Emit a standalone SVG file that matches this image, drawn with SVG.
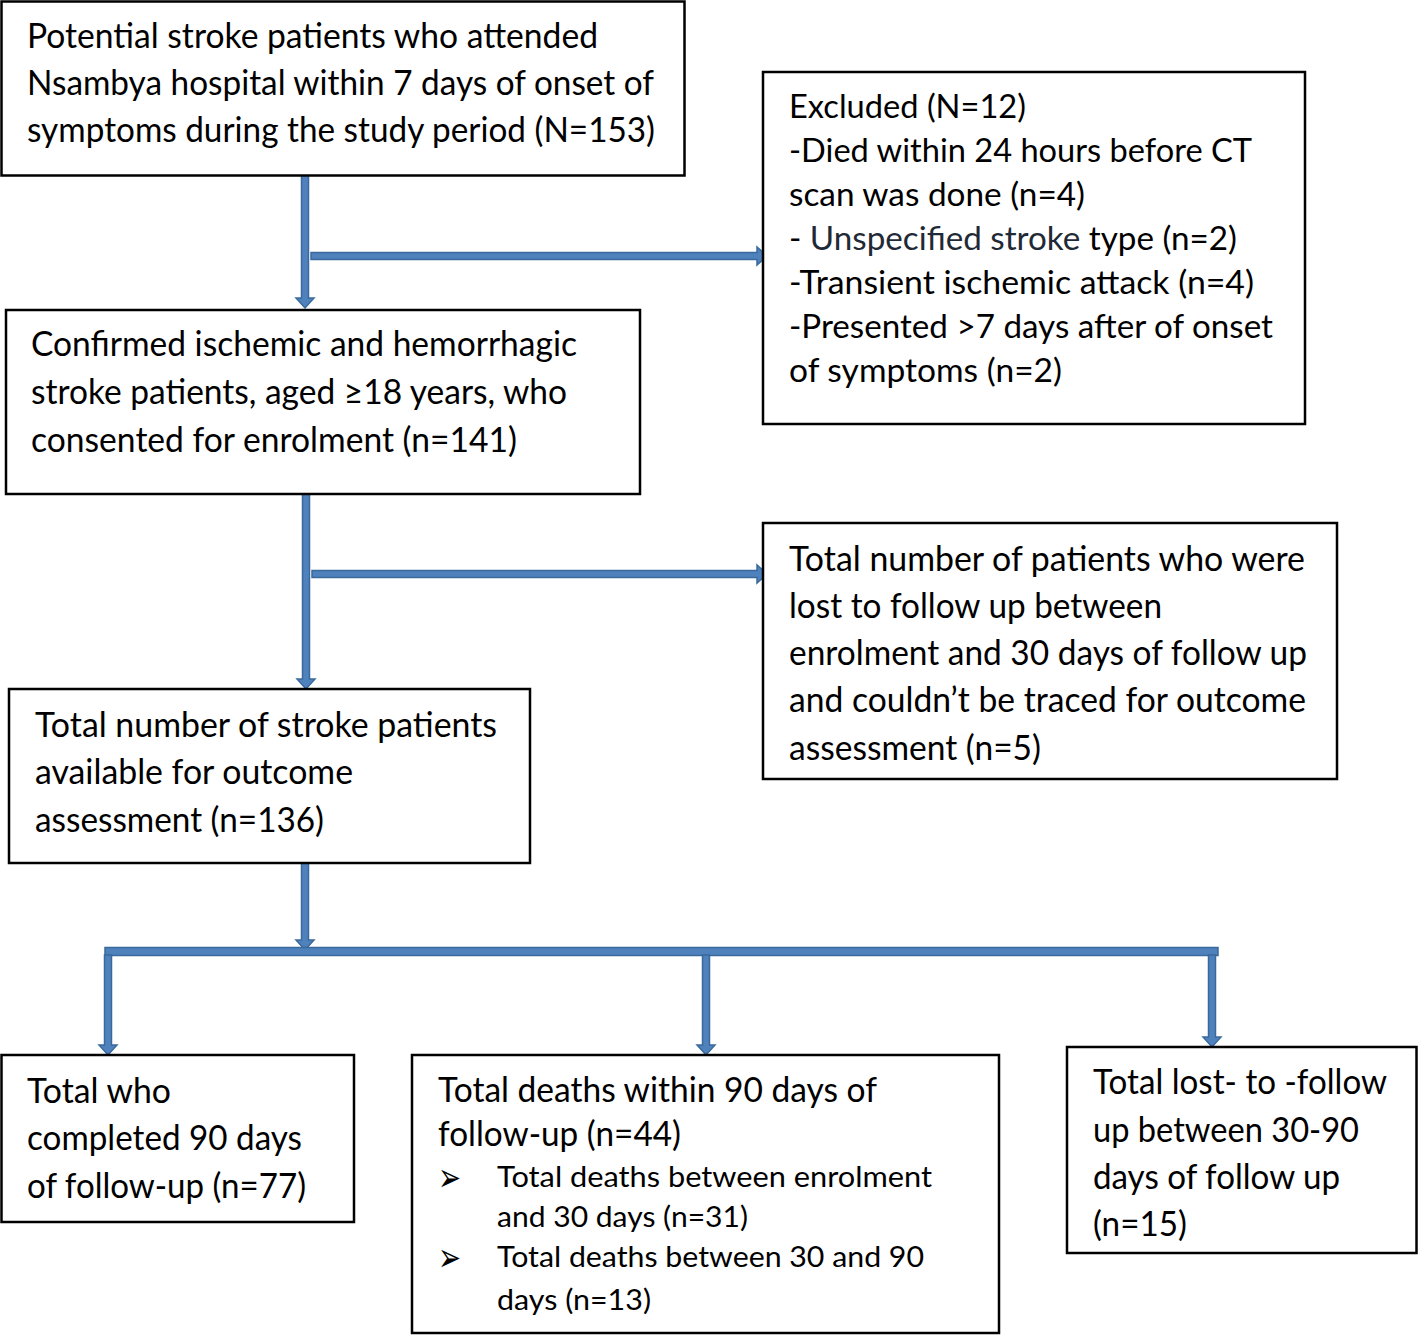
<svg xmlns="http://www.w3.org/2000/svg" width="1418" height="1335" viewBox="0 0 1418 1335">
<style>
.box{fill:#fff;stroke:#000;stroke-width:2.5}
.t{font-family:Lato,"Open Sans","Liberation Sans",sans-serif;font-size:34px;fill:#000}
.s{font-size:32px}
.b{font-size:29px}
.arr{fill:#4F81BD;stroke:#3A6A9C;stroke-width:1.5;stroke-linejoin:miter}
.bul{font-family:"DejaVu Sans",sans-serif;font-size:40px;fill:#000}
</style>
<rect width="1418" height="1335" fill="#fff"/>
<g id="connectors">
<polygon class="arr" points="301.5,175 308.5,175 308.5,298 314,298 305,308 296,298 301.5,298"/>
<polygon class="arr" points="311,252.5 757,252.5 757,247 767,256 757,265 757,259.5 311,259.5"/>
<polygon class="arr" points="302.5,494 309.5,494 309.5,679 315,679 306,689 297,679 302.5,679"/>
<polygon class="arr" points="312,570.5 757,570.5 757,565 767,574 757,583 757,577.5 312,577.5"/>
<polygon class="arr" points="301.5,863 308.5,863 308.5,940 314,940 305,950 296,940 301.5,940"/>
<rect class="arr" x="105" y="947.5" width="1113" height="8"/>
<polygon class="arr" points="104.5,955 111.5,955 111.5,1045 117,1045 108,1055 99,1045 104.5,1045"/>
<polygon class="arr" points="702.5,955 709.5,955 709.5,1045 715,1045 706,1055 697,1045 702.5,1045"/>
<polygon class="arr" points="1208.5,955 1215.5,955 1215.5,1037 1221,1037 1212,1047 1203,1037 1208.5,1037"/>
</g>
<g id="n1">
<rect class="box" x="1.5" y="1.5" width="683" height="174"/>
<text class="t" x="27" y="48" textLength="571" lengthAdjust="spacingAndGlyphs">Potential stroke patients who attended</text>
<text class="t" x="27" y="95" textLength="627" lengthAdjust="spacingAndGlyphs">Nsambya hospital within 7 days of onset of</text>
<text class="t" x="27" y="142" textLength="628" lengthAdjust="spacingAndGlyphs">symptoms during the study period (N=153)</text>
</g>
<g id="n2">
<rect class="box" x="763" y="72" width="542" height="352"/>
<text class="t s" x="789" y="118" textLength="237" lengthAdjust="spacingAndGlyphs">Excluded (N=12)</text>
<text class="t s" x="789" y="162" textLength="463" lengthAdjust="spacingAndGlyphs">-Died within 24 hours before CT</text>
<text class="t s" x="789" y="206" textLength="296" lengthAdjust="spacingAndGlyphs">scan was done (n=4)</text>
<text class="t s" x="789" y="250" textLength="448" lengthAdjust="spacingAndGlyphs">- <tspan fill="#1f2a36">Unspecified stroke</tspan> type (n=2)</text>
<text class="t s" x="789" y="294" textLength="465" lengthAdjust="spacingAndGlyphs">-Transient ischemic attack (n=4)</text>
<text class="t s" x="789" y="338" textLength="484" lengthAdjust="spacingAndGlyphs">-Presented &gt;7 days after of onset</text>
<text class="t s" x="789" y="382" textLength="273" lengthAdjust="spacingAndGlyphs">of symptoms (n=2)</text>
</g>
<g id="n3">
<rect class="box" x="6" y="310" width="634" height="184"/>
<text class="t" x="31" y="356" textLength="546" lengthAdjust="spacingAndGlyphs">Confirmed ischemic and hemorrhagic</text>
<text class="t" x="31" y="404" textLength="536" lengthAdjust="spacingAndGlyphs">stroke patients, aged ≥18 years, who</text>
<text class="t" x="31" y="452" textLength="486" lengthAdjust="spacingAndGlyphs">consented for enrolment (n=141)</text>
</g>
<g id="n4">
<rect class="box" x="763" y="523" width="574" height="256"/>
<text class="t" x="789" y="571" textLength="516" lengthAdjust="spacingAndGlyphs">Total number of patients who were</text>
<text class="t" x="789" y="618" textLength="373" lengthAdjust="spacingAndGlyphs">lost to follow up between</text>
<text class="t" x="789" y="665" textLength="518" lengthAdjust="spacingAndGlyphs">enrolment and 30 days of follow up</text>
<text class="t" x="789" y="712" textLength="517" lengthAdjust="spacingAndGlyphs">and couldn’t be traced for outcome</text>
<text class="t" x="789" y="760" textLength="252" lengthAdjust="spacingAndGlyphs">assessment (n=5)</text>
</g>
<g id="n5">
<rect class="box" x="9" y="689" width="521" height="174"/>
<text class="t" x="35" y="737" textLength="462" lengthAdjust="spacingAndGlyphs">Total number of stroke patients</text>
<text class="t" x="35" y="784" textLength="318" lengthAdjust="spacingAndGlyphs">available for outcome</text>
<text class="t" x="35" y="832" textLength="289" lengthAdjust="spacingAndGlyphs">assessment (n=136)</text>
</g>
<g id="n6">
<rect class="box" x="1.5" y="1055" width="352.5" height="167"/>
<text class="t" x="27" y="1103" textLength="144" lengthAdjust="spacingAndGlyphs">Total who</text>
<text class="t" x="27" y="1150" textLength="275" lengthAdjust="spacingAndGlyphs">completed 90 days</text>
<text class="t" x="27" y="1198" textLength="279" lengthAdjust="spacingAndGlyphs">of follow-up (n=77)</text>
</g>
<g id="n7">
<rect class="box" x="412" y="1055" width="587" height="278"/>
<text class="t" x="438" y="1102" textLength="439" lengthAdjust="spacingAndGlyphs">Total deaths within 90 days of</text>
<text class="t" x="438" y="1146" textLength="243" lengthAdjust="spacingAndGlyphs">follow-up (n=44)</text>
<text class="bul" x="438" y="1191" textLength="23" lengthAdjust="spacingAndGlyphs">➢</text>
<text class="t b" x="497" y="1187" textLength="435" lengthAdjust="spacingAndGlyphs">Total deaths between enrolment</text>
<text class="t b" x="497" y="1227" textLength="251" lengthAdjust="spacingAndGlyphs">and 30 days (n=31)</text>
<text class="bul" x="438" y="1271" textLength="23" lengthAdjust="spacingAndGlyphs">➢</text>
<text class="t b" x="497" y="1267" textLength="427" lengthAdjust="spacingAndGlyphs">Total deaths between 30 and 90</text>
<text class="t b" x="497" y="1310" textLength="154" lengthAdjust="spacingAndGlyphs">days (n=13)</text>
</g>
<g id="n8">
<rect class="box" x="1067" y="1047" width="349.5" height="206"/>
<text class="t" x="1093" y="1094" textLength="294" lengthAdjust="spacingAndGlyphs">Total lost- to -follow</text>
<text class="t" x="1093" y="1142" textLength="266" lengthAdjust="spacingAndGlyphs">up between 30-90</text>
<text class="t" x="1093" y="1189" textLength="247" lengthAdjust="spacingAndGlyphs">days of follow up</text>
<text class="t" x="1093" y="1236" textLength="94" lengthAdjust="spacingAndGlyphs">(n=15)</text>
</g>
</svg>
